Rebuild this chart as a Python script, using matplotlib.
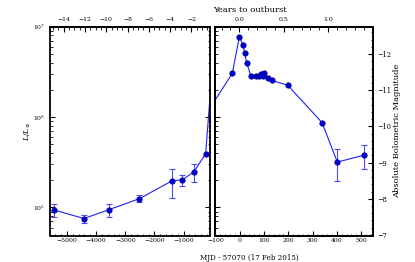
import numpy as np
import matplotlib
matplotlib.use("Agg")
import matplotlib.pyplot as plt
from matplotlib.ticker import MultipleLocator, LogLocator, NullFormatter, FixedLocator

# ---- data (days relative to MJD 57070, luminosity in L_sun) ----
pre_days = [-5435, -4416, -3569, -2519, -1398, -1044, -643, -242]
pre_lum = [9.36e4, 7.55e4, 9.43e4, 1.25e5, 1.97e5, 2.02e5, 2.48e5, 3.95e5]
pre_err = [1.55e4, 0.8e4, 1.5e4, 1.1e4, 7.1e4, 2.8e4, 5.5e4, 0.0]

out_days = [-30, -1, 15, 21, 29, 47, 68, 79, 90, 98, 101, 115, 134, 198, 339, 402, 512]
out_lum = [3.05e6, 7.76e6, 6.22e6, 5.08e6, 4.0e6, 2.82e6, 2.82e6, 2.85e6, 3.0e6,
           2.85e6, 3.10e6, 2.69e6, 2.54e6, 2.25e6, 8.7e5, 3.18e5, 3.79e5]
out_err = [0, 0, 0, 0, 0, 0, 0, 0, 0, 0, 0, 0, 0, 0, 0, 1.2e5, 1.1e5]

left_year_ticks = [-14, -12, -10, -8, -6, -4, -2]
right_year_ticks = [0.0, 0.5, 1.0]

M_SUN = 4.74
OUTBURST_DAY = -1
left_xlim = (-5600, -100)
right_xlim = (-100, 550)
lum_lim = (10 ** 4.69, 1e7)

plt.rcParams["font.family"] = ["DejaVu Serif"]
plt.rcParams["mathtext.fontset"] = "dejavuserif"

LINE_C = "#1f1fff"
MARK_C = "#0000cc"
ERR_C = "#4b4bff"
TICK_FS = 4.4
LAB_FS = 5.6

fig = plt.figure(figsize=(4.15, 2.62), dpi=100)
W, H = 415.0, 262.0
ax1 = fig.add_axes([49.5 / W, 1 - 235.5 / H, 160.3 / W, 208.8 / H])
ax2 = fig.add_axes([215.3 / W, 1 - 235.5 / H, 158.0 / W, 208.8 / H], sharey=ax1)

all_days = pre_days + out_days
all_lum = pre_lum + out_lum


def draw(ax, days, lum, err):
    ax.plot(all_days, all_lum, "-", color=LINE_C, lw=0.8, zorder=2)
    d = np.array(days)
    l = np.array(lum)
    e = np.array(err, dtype=float)
    has = e > 0
    ax.errorbar(d[has], l[has], yerr=e[has], fmt="none", ecolor=ERR_C,
                elinewidth=0.8, capsize=2.0, capthick=0.8, zorder=2)
    ax.plot(d, l, "o", color=MARK_C, markeredgecolor="#00009a",
            markeredgewidth=0.5, markersize=3.9, zorder=3)


draw(ax1, pre_days, pre_lum, pre_err)
draw(ax2, out_days, out_lum, out_err)

ax1.set_yscale("log")
ax1.set_ylim(*lum_lim)
ax1.set_xlim(*left_xlim)
ax2.set_xlim(*right_xlim)

for ax in (ax1, ax2):
    for s in ax.spines.values():
        s.set_linewidth(1.3)
    ax.yaxis.set_major_locator(LogLocator(base=10))
    ax.yaxis.set_minor_locator(LogLocator(base=10, subs=np.arange(2, 10)))
    ax.yaxis.set_minor_formatter(NullFormatter())
    ax.tick_params(which="both", direction="in", labelsize=TICK_FS, top=False)
    ax.tick_params(which="major", length=3.6, width=0.8)
    ax.tick_params(which="minor", length=1.8, width=0.6)
    ax.tick_params(axis="x", pad=1.6)

ax1.tick_params(axis="y", which="both", left=True, right=True, pad=3.2)
ax2.tick_params(axis="y", which="both", left=True, right=False, labelleft=False)

ax1.xaxis.set_major_locator(MultipleLocator(1000))
ax1.xaxis.set_minor_locator(MultipleLocator(200))
ax2.xaxis.set_major_locator(MultipleLocator(100))
ax2.xaxis.set_minor_locator(MultipleLocator(20))

ax1.set_ylabel(r"$L/L_{\odot}$", fontsize=LAB_FS)
ax1.yaxis.set_label_coords(-0.105, 0.5)

# magnitude axis on the right panel
axm = ax2.twinx()
axm.set_ylim(M_SUN - 2.5 * np.log10(lum_lim[0]), M_SUN - 2.5 * np.log10(lum_lim[1]))
axm.yaxis.set_major_locator(MultipleLocator(1))
axm.yaxis.set_minor_locator(MultipleLocator(0.2))
axm.tick_params(which="both", direction="in", labelsize=TICK_FS + 0.4, pad=2.6)
axm.tick_params(which="major", length=3.6, width=0.8)
axm.tick_params(which="minor", length=1.8, width=0.6)
for s in axm.spines.values():
    s.set_linewidth(1.3)
axm.set_ylabel("Absolute Bolometric Magnitude", fontsize=6.0)
axm.yaxis.set_label_coords(1.125, 0.5)


# years-to-outburst axes on top
def d2y(d):
    return (np.asarray(d) - OUTBURST_DAY) / 365.25


def y2d(y):
    return np.asarray(y) * 365.25 + OUTBURST_DAY


for ax, ticks, mnr in ((ax1, left_year_ticks, 0.5), (ax2, right_year_ticks, 0.1)):
    sec = ax.secondary_xaxis("top", functions=(d2y, y2d))
    sec.xaxis.set_major_locator(FixedLocator(ticks))
    sec.xaxis.set_minor_locator(MultipleLocator(mnr))
    sec.tick_params(which="both", direction="in", labelsize=TICK_FS, pad=3.5)
    sec.tick_params(which="major", length=3.6, width=0.8)
    sec.tick_params(which="minor", length=1.8, width=0.6)
    sec.spines["top"].set_linewidth(1.3)

fig.text(250 / W, 1 - 9.5 / H, "Years to outburst", fontsize=6.1,
         ha="center", va="center")
fig.text(249 / W, 1 - 257.5 / H, "MJD - 57070 (17 Feb 2015)", fontsize=5.1,
         ha="center", va="center")

fig.savefig("out.png", dpi=100)
